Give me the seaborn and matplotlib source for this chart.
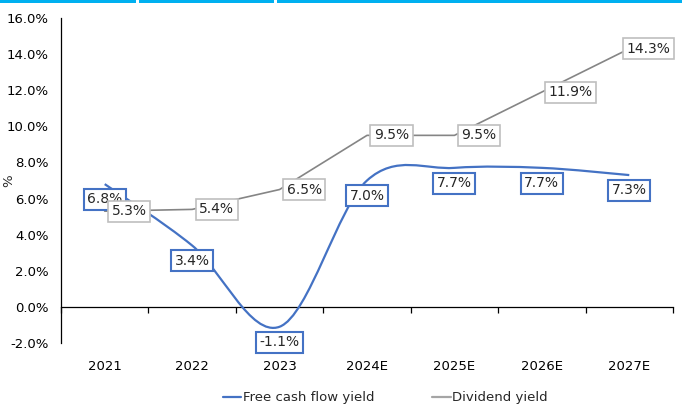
import numpy as np
import matplotlib
matplotlib.use("Agg")
import matplotlib.pyplot as plt
import seaborn as sns
from matplotlib.path import Path
from matplotlib.patches import PathPatch, Rectangle
from matplotlib.lines import Line2D

# Dati
years = ["2021", "2022", "2023", "2024E", "2025E", "2026E", "2027E"]
fcf_yield = [6.8, 3.4, -1.1, 7.0, 7.7, 7.7, 7.3]
div_yield = [5.3, 5.4, 6.5, 9.5, 9.5, 11.9, 14.3]

blue = "#4472C4"
grey = "#858585"

sns.set_theme(style="white")
plt.rcParams["font.family"] = ["DejaVu Sans"]

fig = plt.figure(figsize=(6.82, 4.07), dpi=100)
ax = fig.add_axes([61 / 682, 1 - 343 / 407, 612 / 682, 325 / 407])

x = np.arange(len(years))


# Linea smussata stile Excel (bezier cubiche)
def smooth_path(xs, ys):
    pts = np.column_stack([xs, ys]).astype(float)
    ext = np.vstack([pts[0], pts, pts[-1]])
    verts = [tuple(pts[0])]
    codes = [Path.MOVETO]
    for i in range(len(pts) - 1):
        p0, p1, p2, p3 = ext[i], ext[i + 1], ext[i + 2], ext[i + 3]
        c1 = p1 + (p2 - p0) / 6
        c2 = p2 - (p3 - p1) / 6
        verts += [tuple(c1), tuple(c2), tuple(p2)]
        codes += [Path.CURVE4] * 3
    return Path(verts, codes)


ax.add_patch(PathPatch(smooth_path(x, fcf_yield), facecolor="none", edgecolor=blue, lw=1.6))
sns.lineplot(x=x, y=div_yield, ax=ax, color=grey, lw=1.2, legend=False)

ax.set_xlim(-0.5, len(years) - 0.5)
ax.set_ylim(-2, 16)
ax.set_yticks(np.arange(-2, 17, 2))
ax.set_yticklabels([f"{v:.1f}%" for v in np.arange(-2, 17, 2)])
ax.set_xticks(x)
ax.set_xticklabels(years)
ax.tick_params(axis="x", length=0, pad=12, labelsize=9.5, colors="black")
ax.tick_params(axis="y", length=0, pad=9, labelsize=9.5, colors="black")
ax.set_ylabel("%", fontsize=9.5)
ax.yaxis.set_label_coords(-0.075, 0.5)

for s in ["top", "right", "bottom"]:
    ax.spines[s].set_visible(False)
ax.spines["left"].set_color("black")
ax.spines["left"].set_linewidth(0.9)

# Asse dello zero con tacche
sec = ax.secondary_xaxis(2 / 18)
sec.set_xticks(np.arange(-0.5, len(years), 1.0))
sec.set_xticklabels([])
sec.tick_params(axis="x", direction="out", length=4, width=0.9, color="black")
sec.spines["bottom"].set_color("black")
sec.spines["bottom"].set_linewidth(0.9)

# Etichette
for xi, v in zip(x, fcf_yield):
    ax.annotate(f"{v:.1f}%", (xi, v), xytext=(0, -11), textcoords="offset points",
                ha="center", va="center", fontsize=10,
                bbox=dict(boxstyle="square,pad=0.25", fc="white", ec=blue, lw=1.5))
for i, (xi, v) in enumerate(zip(x, div_yield)):
    if i == len(years) - 1:
        off, ha = (14, 0), "center"
    else:
        off, ha = (5, 0), "left"
    ax.annotate(f"{v:.1f}%", (xi, v), xytext=off, textcoords="offset points",
                ha=ha, va="center", fontsize=10,
                bbox=dict(boxstyle="square,pad=0.25", fc="white", ec="#BFBFBF", lw=1.2))

handles = [Line2D([], [], color=blue, lw=1.6), Line2D([], [], color="#A5A5A5", lw=1.6)]
fig.legend(handles, ["Free cash flow yield", "Dividend yield"], loc="center",
           bbox_to_anchor=(0.565, 1 - 398 / 407), ncol=2, frameon=False, fontsize=9.5,
           handlelength=1.4, handletextpad=0.1, columnspacing=4.4)

# Barra in alto
for a, b in [(0, 136), (139, 274), (277, 682)]:
    fig.add_artist(Rectangle((a / 682, 1 - 3 / 407), (b - a) / 682, 3 / 407,
                             transform=fig.transFigure, color="#00B0F0", lw=0))

fig.savefig("out.png", dpi=100)
